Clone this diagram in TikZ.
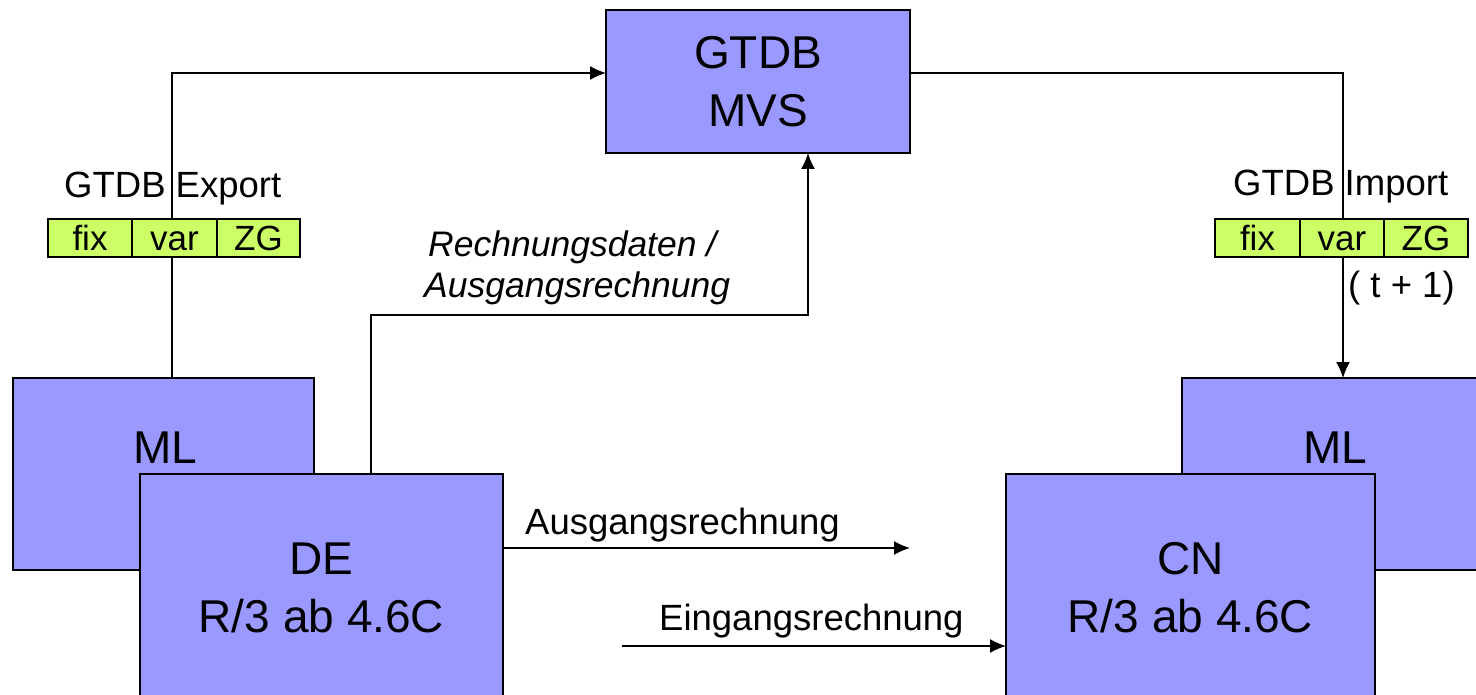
\documentclass[tikz,border=0pt]{standalone}
\usepackage{fontspec}
\setmainfont{Liberation Sans}
\usetikzlibrary{arrows.meta,calc}
\definecolor{boxblue}{HTML}{9999FF}
\definecolor{bargreen}{HTML}{CCFF66}
\begin{document}
\begin{tikzpicture}[x=1pt,y=-1pt,
  sysbox/.style={draw=black,line width=1.6pt,fill=boxblue,inner sep=0pt,outer sep=0pt,align=center,font=\fontsize{46}{58}\selectfont},
  boxtext/.style={inner sep=0pt,anchor=base,font=\fontsize{46}{58}\selectfont},
  cell/.style={draw=black,line width=1.2pt,fill=bargreen,inner sep=0pt,outer sep=0pt,minimum height=38pt,text height=25pt,text depth=0pt,font=\fontsize{35}{40}\selectfont},
  lbl/.style={inner sep=0pt,anchor=base west,font=\fontsize{36.5}{42}\selectfont},
  conn/.style={line width=1.4pt},
  arr/.style={conn,-{Latex[length=16pt,width=14pt]}}
]
\useasboundingbox (0,0) rectangle (1476,695);
\fill[white] (0,0) rectangle (1476,695);

% boxes
\node[sysbox,minimum width=304pt,minimum height=143pt] (gtdb) at (758,81.5) {GTDB\\MVS};
\node[sysbox,minimum width=301pt,minimum height=192pt] (mlL) at (163.5,474) {};
\node[boxtext] (mlLt) at (165,463) {ML};
\node[sysbox,minimum width=363pt,minimum height=227pt] (de) at (321.5,587.5) {DE\\R/3 ab 4.6C};
\node[sysbox,minimum width=306pt,minimum height=192pt] (mlR) at (1335,474) {};
\node[boxtext] (mlRt) at (1335,463) {ML};
\node[sysbox,minimum width=369pt,minimum height=227pt] (cn) at (1190.5,587.5) {CN\\R/3 ab 4.6C};

% labels
\node[lbl] (explbl) at (64,198) {GTDB Export};
\node[lbl] (implbl) at (1233,196) {GTDB Import};
\node[lbl] (tplus) at (1348,298) {( t + 1)};
\node[lbl,font=\fontsize{35.5}{42}\selectfont\itshape] (rd1) at (428,257) {Rechnungsdaten /};
\node[lbl,font=\fontsize{35.5}{42}\selectfont\itshape] (rd2) at (424,298) {Ausgangsrechnung};
\node[lbl] (auslbl) at (525,534) {Ausgangsrechnung};
\node[lbl] (einlbl) at (659,630) {Eingangsrechnung};

% connectors
\coordinate (ausEnd) at (910,548);
\coordinate (einStart) at (622,646);
\draw[arr] ($(mlL.north west)+(159,0)$) |- ($(gtdb.north west)+(0,63)$);
\draw[arr] ($(gtdb.north east)+(0,63)$) -| ($(mlR.north west)+(161,0)$);
\draw[arr] ($(de.north west)+(231,0)$) -- ++(0,-159) -| ($(gtdb.south west)+(202,0)$);
\draw[arr] ($(de.north east)+(0,74)$) -- (ausEnd);
\draw[arr] (einStart) -- ($(cn.north west)+(0,172)$);

% green bars
\node[cell,minimum width=84pt] (lfix) at (90,238) {fix};
\node[cell,minimum width=85pt] (lvar) at (174.5,238) {var};
\node[cell,minimum width=83pt] (lzg) at (258.5,238) {ZG};
\node[cell,minimum width=85pt] (rfix) at (1257.5,238) {fix};
\node[cell,minimum width=84pt] (rvar) at (1342,238) {var};
\node[cell,minimum width=84pt] (rzg) at (1426,238) {ZG};
\end{tikzpicture}
\end{document}
